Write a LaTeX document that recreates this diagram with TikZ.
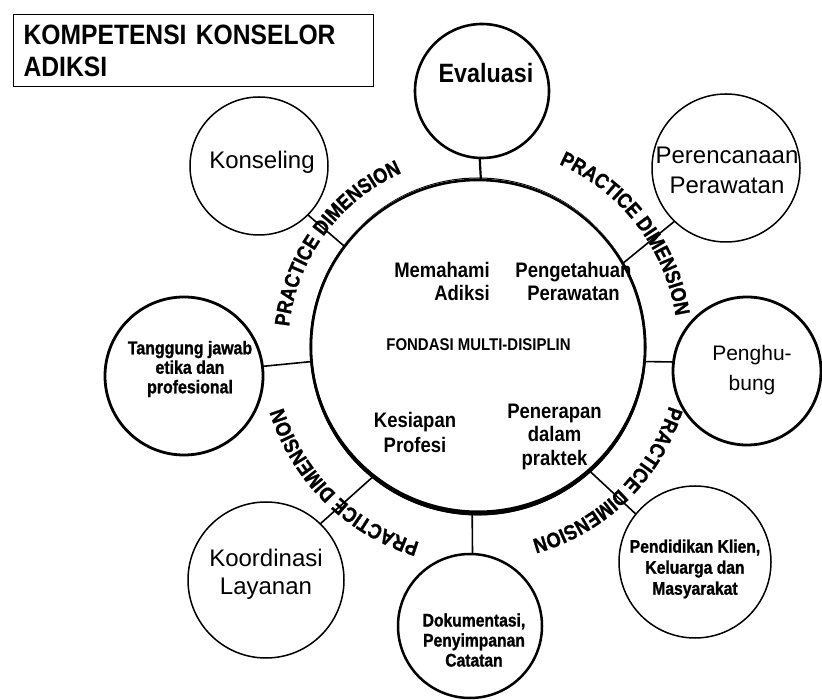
\documentclass[tikz,border=0pt]{standalone}
\usepackage{fontspec}
\setmainfont{Liberation Sans}
\newfontfamily\narrowsans{Liberation Sans}[FakeStretch=0.88]
\newfontfamily\ringsans{Liberation Sans}[FakeStretch=0.86, FakeBold=1.2]
\usetikzlibrary{decorations.text}
\newcommand\fsz[2]{\fontsize{#1}{#2}\selectfont}
\begin{document}
\begin{tikzpicture}[x=1pt,y=1pt,
  ring/.style={circle, draw, inner sep=0pt, outer sep=0pt},
  thinring/.style={ring, line width=1.5pt},
  boldring/.style={ring, line width=2.8pt},
  lbl/.style={align=center, inner sep=0pt},
  link/.style={line width=1.6pt},
  arctext/.style={decorate, decoration={text along path, text align=center,
    text={|\ringsans\fsz{21}{21}\bfseries|PRACTICE DIMENSION}}}
]
\useasboundingbox (0,0) rectangle (822,699);
\fill[white] (0,0) rectangle (822,699);

% title box
\node[draw, line width=1.3pt, anchor=north west, minimum width=360pt, minimum height=72pt,
      text width=340pt, inner xsep=10pt, inner ysep=0pt, align=left,
      font=\narrowsans\fsz{28}{32}\bfseries] (title) at (13,685) {KOMPETENSI KONSELOR\\ADIKSI};

% central foundation circle, heavier along its lower rim
\node[ring, line width=2.6pt, minimum size=334pt] (core) at (478,352) {};
\fill[even odd rule] (core.center) circle[radius=168.5] (478,355) circle[radius=166.5];

% competency circles
\node[boldring, line width=2.6pt, minimum size=134pt] (eva) at (482,608) {};
\node[thinring, minimum size=138pt] (kon) at (259,533) {};
\node[thinring, minimum size=148pt] (per) at (726,531) {};
\node[boldring, minimum size=148pt] (peng) at (747,328) {};
\node[boldring, minimum size=158pt] (tan) at (184,323) {};
\node[thinring, minimum size=156pt] (koo) at (266,119) {};
\node[boldring, line width=2.5pt, minimum size=144pt] (dok) at (470,73) {};
\node[thinring, minimum size=152pt] (pdk) at (695,137) {};

% labels of the competency circles
\node[lbl, font=\narrowsans\fsz{26.5}{28}\bfseries] (evaT) at (486,626) {Evaluasi};
\node[lbl, font=\fsz{24}{29}] (konT) at (262,537) {Konseling};
\node[lbl, font=\fsz{24}{30}] (perT) at (727,529) {Perencanaan\\Perawatan};
\node[lbl, font=\fsz{21}{30}] (pengT) at (752,329) {Penghu-\\bung};
\node[lbl, font=\ringsans\fsz{18.5}{19.5}\bfseries] (tanT) at (190,330) {Tanggung jawab\\etika dan\\profesional};
\node[lbl, font=\fsz{24}{28}] (kooT) at (266,125) {Koordinasi\\Layanan};
\node[lbl, font=\ringsans\fsz{18.2}{20}\bfseries] (dokT) at (474,59) {Dokumentasi,\\Penyimpanan\\Catatan};
\node[lbl, font=\ringsans\fsz{18.2}{21}\bfseries] (pdkT) at (695,130) {Pendidikan Klien,\\Keluarga dan\\Masyarakat};

% labels inside the foundation circle
\node[lbl, align=right, anchor=east, font=\narrowsans\fsz{21}{23}\bfseries] (mem) at (490,417.5) {Memahami\\Adiksi};
\node[lbl, font=\narrowsans\fsz{21}{23}\bfseries] (pgt) at (573.5,417.5) {Pengetahuan\\Perawatan};
\node[lbl, font=\narrowsans\fsz{17}{18}\bfseries] (fon) at (478.5,354) {FONDASI MULTI-DISIPLIN};
\node[lbl, font=\narrowsans\fsz{21}{25}\bfseries] (kes) at (415,266.5) {Kesiapan\\Profesi};
\node[lbl, font=\narrowsans\fsz{21}{23.5}\bfseries] (pnr) at (554.5,262.5) {Penerapan\\dalam\\praktek};

% spokes
\draw[link, line width=2.2pt] (eva.268) -- (core.89);
\draw[link] (kon.-45) -- (core.143);
\draw[link] (per.226) -- (core.30);
\draw[link] (tan.7) -- (core.185);
\draw[link] (core.-5) -- (peng.173);
\draw[link] (koo.46) -- (core.231);
\draw[link] (core.268) -- (dok.88);
\draw[link] (core.-48) -- (pdk.141);

% ring of curved captions
\path[arctext] (core.center) ++(180:190) arc[start angle=180, end angle=107.5, radius=190];
\path[arctext] (core.center) ++(74:200) arc[start angle=74, end angle=1, radius=200];
\path[arctext] (core.center) ++(-10:200) arc[start angle=-10, end angle=-81.5, radius=200];
\path[arctext] (core.center) ++(261:204) arc[start angle=261, end angle=189.6, radius=204];
\end{tikzpicture}
\end{document}
